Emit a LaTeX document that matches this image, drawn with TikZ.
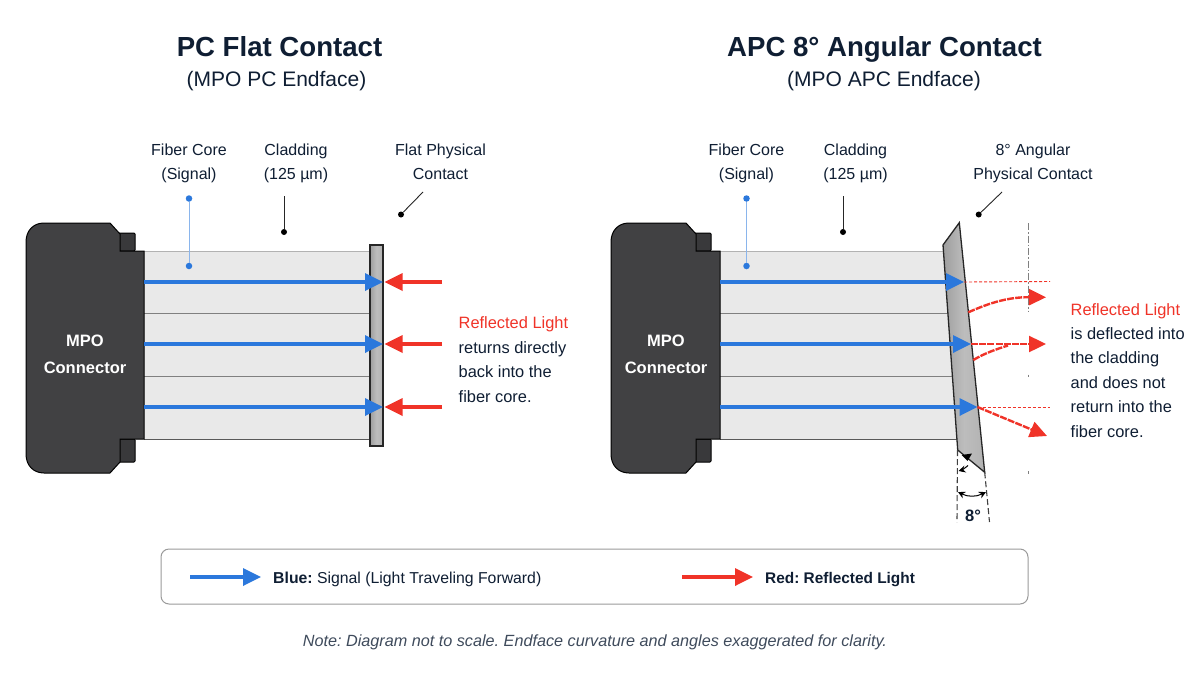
\documentclass[tikz,border=0pt]{standalone}
\usepackage{fontspec}
\setmainfont{Liberation Sans}
\frenchspacing
\usetikzlibrary{arrows.meta}
\definecolor{ink}{HTML}{0F1E33}
\definecolor{sigblue}{HTML}{2B78DC}
\definecolor{refred}{HTML}{F03328}
\definecolor{body}{HTML}{414143}
\definecolor{tab}{HTML}{39393B}
\definecolor{clad}{HTML}{E9E9E9}
\definecolor{legendline}{HTML}{9A9A9A}
\tikzset{
  px/.style={x=1pt,y=-1pt},
  titletxt/.style={font=\fontsize{27.6}{32}\selectfont\bfseries,text=ink,inner sep=0pt,anchor=base},
  subtxt/.style={font=\fontsize{21}{25}\selectfont,text=ink,inner sep=0pt,anchor=base},
  labeltxt/.style={font=\fontsize{16}{23.3}\selectfont,text=ink,align=center,inner sep=0pt,anchor=base},
  sidetxt/.style={font=\fontsize{16.4}{24.4}\selectfont,text=ink,align=left,inner sep=0pt,anchor=base west},
  conntxt/.style={font=\fontsize{16.5}{27}\selectfont\bfseries,text=white,align=center,inner sep=0pt,anchor=base},
  legendtxt/.style={font=\fontsize{15.8}{18}\selectfont,text=ink,inner sep=0pt,anchor=base west},
  notetxt/.style={font=\fontsize{16.2}{18}\selectfont\itshape,text=ink!80,inner sep=0pt,anchor=base},
  dotb/.style={circle,fill=sigblue,inner sep=0pt,minimum size=6.5pt},
  dotk/.style={circle,fill=black,inner sep=0pt,minimum size=6pt},
  leadb/.style={draw=sigblue!55,line width=1pt},
  leadk/.style={draw=black!85,line width=.9pt},
  sig/.style={draw=sigblue,line width=3.4pt,-{Triangle[length=18pt,width=17pt,fill=sigblue]}},
  refl/.style={draw=refred,line width=3.4pt,-{Triangle[length=18pt,width=17pt,fill=refred]}},
  refcurve/.style={draw=refred,line width=2.4pt,dash pattern=on 7pt off 1.2pt,-{Triangle[length=17pt,width=16pt,fill=refred]}},
  refstub/.style={draw=refred,line width=2.4pt,dash pattern=on 7pt off 1.2pt},
  refthin/.style={draw=refred,line width=.9pt,densely dashed},
  fiberline/.style={draw=black!50,line width=1pt},
  axisline/.style={draw=black!50,line width=.9pt,dash pattern=on 7pt off 2pt on 1.5pt off 2pt},
  extline/.style={draw=black!75,line width=1.1pt,dash pattern=on 6pt off 3pt},
  face/.style={draw=black!85,line width=1.3pt,left color=black!38,right color=black!30,middle color=black!26},
  conn/.style={draw=black,line width=1pt,fill=body},
  tabbox/.style={draw=black,line width=1pt,fill=tab,rounded corners=1pt},
}
% #1: shift of the right part, #2: x of the left edge (before the shift)
\newcommand{\connector}[2]{%
  \begin{scope}[shift={(#1,0)}]
    \draw[tabbox] (118,233) -- (135,233) -- (135,251) -- (118,251) -- cycle;
    \draw[tabbox] (118,439) -- (135,439) -- (135,462) -- (118,462) -- cycle;
    \draw[conn] (144,251) -- (120,251) -- (120,234) -- (110,223)
      -- (#2+18,223) .. controls (#2+7,223) and (#2,231) .. (#2,242)
      -- (#2,454) .. controls (#2,465) and (#2+7,473) .. (#2+18,473)
      -- (110,473) -- (120,462) -- (120,439) -- (144,439) -- cycle;
  \end{scope}}
\begin{document}
\begin{tikzpicture}[px]
\useasboundingbox (0,0) rectangle (1200,675);
\fill[white] (0,0) rectangle (1200,675);

% titles
\node[titletxt] (t1) at (279.5,56) {PC Flat Contact};
\node[subtxt] (s1) at (276.5,86.5) {(MPO PC Endface)};
\node[titletxt] (t2) at (884.5,56) {APC 8° Angular Contact};
\node[subtxt] (s2) at (884,86.5) {(MPO APC Endface)};

% ---------- left ----------
\fill[clad] (144,251) rectangle (370,439);
\draw[black!30,line width=1pt] (144,251) -- (370,251);
\draw[black!65,line width=1pt] (144,439) -- (370,439);
\draw[fiberline] (144,313) -- (370,313);
\draw[fiberline] (144,376) -- (370,376);
\connector{0}{26}
\node[conntxt] (c1) at (85,373) {MPO\\Connector};
\path[face] (370,245) rectangle (383,446);

\node[labeltxt] (l1) at (189,179) {Fiber Core\\(Signal)};
\node[labeltxt] (l2) at (296,179) {Cladding\\(125 µm)};
\node[labeltxt] (l3) at (440.5,179) {Flat Physical\\Contact};
\node[dotb] (a1) at (189,198.5) {};
\node[dotb] (a2) at (189,266) {};
\draw[leadb] (a1) -- (a2);
\coordinate (b1) at (284,196);
\node[dotk] (b2) at (284,232) {};
\draw[leadk] (b1) -- (b2);
\coordinate (c1a) at (423,192);
\node[dotk] (c2) at (401,214.5) {};
\draw[leadk] (c1a) -- (c2);

\coordinate (ls1) at (144,282); \coordinate (le1) at (383,282);
\coordinate (ls2) at (144,344); \coordinate (le2) at (383,344);
\coordinate (ls3) at (144,407); \coordinate (le3) at (383,407);
\draw[sig] (ls1) -- (le1);
\draw[sig] (ls2) -- (le2);
\draw[sig] (ls3) -- (le3);
\coordinate (rs1) at (442,282); \coordinate (re1) at (384.5,282);
\coordinate (rs2) at (442,344); \coordinate (re2) at (384.5,344);
\coordinate (rs3) at (442,407); \coordinate (re3) at (384.5,407);
\draw[refl] (rs1) -- (re1);
\draw[refl] (rs2) -- (re2);
\draw[refl] (rs3) -- (re3);
\node[sidetxt] (n1) at (458.5,402) {\textcolor{refred}{Reflected Light}\\returns directly\\back into the\\fiber core.};

% ---------- right ----------
\fill[clad] (720,251) -- (943.4,251) -- (956.9,439) -- (720,439) -- cycle;
\draw[black!30,line width=1pt] (720,251) -- (943.4,251);
\draw[black!65,line width=1pt] (720,439) -- (956.9,439);
\draw[fiberline] (720,313) -- (947.9,313);
\draw[fiberline] (720,376) -- (952.4,376);
\connector{576}{35}
\node[conntxt] (c2t) at (666,373) {MPO\\Connector};
\path[face] (943,245) -- (959.3,222.7) -- (984.7,472.3) -- (957.7,450) -- cycle;

\node[labeltxt] (r1) at (746.5,179) {Fiber Core\\(Signal)};
\node[labeltxt] (r2) at (855.5,179) {Cladding\\(125 µm)};
\node[labeltxt] (r3) at (1033,179) {8° Angular\\Physical Contact};
\node[dotb] (d1) at (746.5,198.5) {};
\node[dotb] (d2) at (746.5,266) {};
\draw[leadb] (d1) -- (d2);
\coordinate (e1) at (843,196);
\node[dotk] (e2) at (843,232) {};
\draw[leadk] (e1) -- (e2);
\coordinate (f1) at (1002,192);
\node[dotk] (f2) at (978.7,214.5) {};
\draw[leadk] (f1) -- (f2);

\draw[axisline] (1028.5,223) -- (1028.5,312);
\draw[axisline] (1028.5,374.5) -- (1028.5,377);
\draw[axisline] (1028.5,471) -- (1028.5,473.5);

\coordinate (ms1) at (720,282); \coordinate (me1) at (964,282);
\coordinate (ms2) at (720,344); \coordinate (me2) at (971,344);
\coordinate (ms3) at (720,407); \coordinate (me3) at (977.5,407);
\draw[sig] (ms1) -- (me1);
\draw[sig] (ms2) -- (me2);
\draw[sig] (ms3) -- (me3);

\coordinate (th1) at (1050,281.5);
\coordinate (th3) at (1050,407);
\coordinate (q1) at (1046,297.3);
\coordinate (q2) at (1046,344);
\coordinate (q3) at (1047,436);
\draw[refthin] (me1) -- (th1);
\draw[refthin] (me3) -- (th3);
\draw[refcurve] (968.3,312.3) .. controls (985,305) and (1005,297) .. (q1);
\draw[refcurve] (me2) -- (q2);
\draw[refstub] (973.3,360) .. controls (985,353) and (997,349) .. (1008,345.5);
\draw[refcurve] (me3) -- (q3);

\node[sidetxt] (n2) at (1070.5,437) {\textcolor{refred}{Reflected Light}\\is deflected into\\the cladding\\and does not\\return into the\\fiber core.};

% 8 degree marks
\coordinate (g1) at (957.5,450); \coordinate (g2) at (957,522);
\coordinate (g3) at (984.7,472.3); \coordinate (g4) at (989.5,522);
\draw[extline] (g1) -- (g2);
\draw[extline] (g3) -- (g4);
\draw[black,line width=1pt,{Stealth[length=7pt,width=7pt]}-{Stealth[length=7pt,width=7pt]}] (958,492) .. controls (968,497) and (976,497) .. (986,492);
\node[font=\fontsize{16.5}{20}\selectfont\bfseries,text=ink,inner sep=0pt,anchor=base] (deg) at (973,521) {8°};
\fill[black] (961.5,455) -- (972,453.5) -- (967.5,461) -- cycle;
\draw[black,line width=1pt,{Stealth[length=7pt,width=7pt]}-] (958.5,471) .. controls (962,470) and (965,468) .. (968,465.5);

% legend
\node[draw=legendline,line width=1pt,rounded corners=8pt,minimum width=867pt,minimum height=55pt,inner sep=0pt] (box) at (594.5,576.5) {};
\coordinate (lb1) at (190,577); \coordinate (lb2) at (261,577);
\coordinate (lr1) at (682,577); \coordinate (lr2) at (753,577);
\draw[sig] (lb1) -- (lb2);
\draw[refl] (lr1) -- (lr2);
\node[legendtxt] (lt1) at (273,583) {\textbf{Blue:} Signal (Light Traveling Forward)};
\node[legendtxt,font=\fontsize{15.4}{18}\selectfont] (lt2) at (765,583) {\textbf{Red: Reflected Light}};
\node[notetxt] (note) at (595,646.5) {Note: Diagram not to scale. Endface curvature and angles exaggerated for clarity.};
\end{tikzpicture}
\end{document}
